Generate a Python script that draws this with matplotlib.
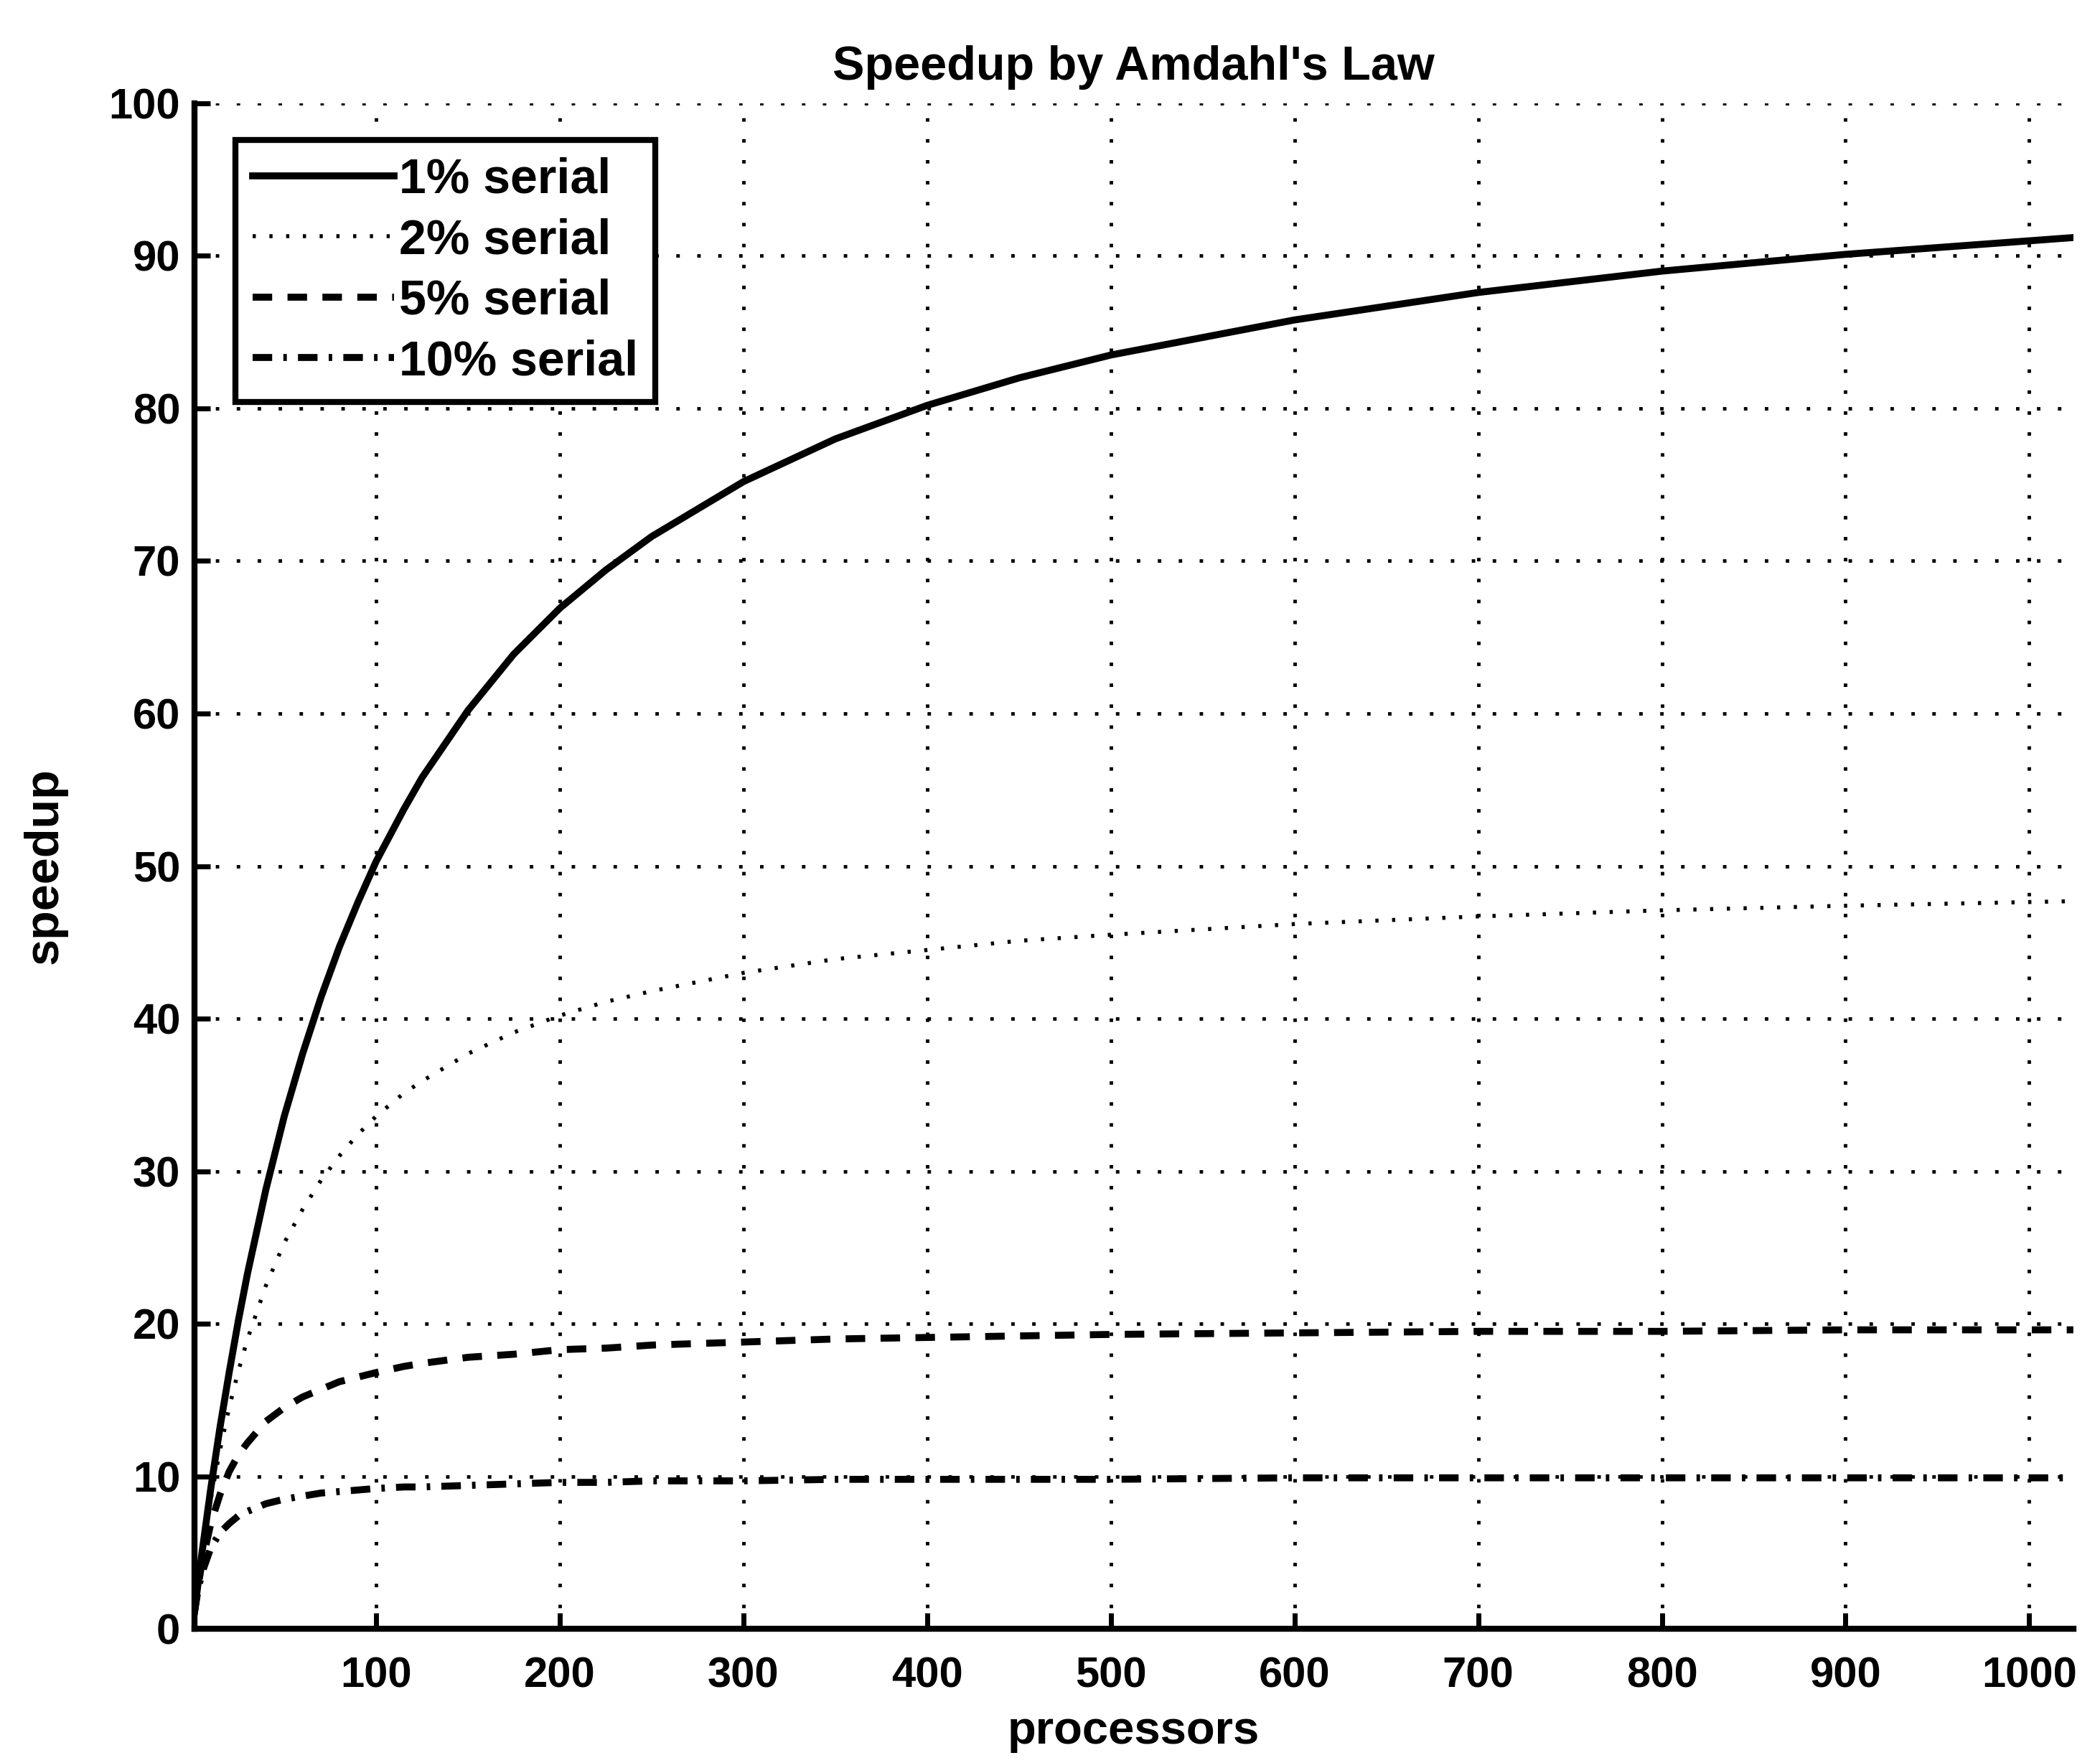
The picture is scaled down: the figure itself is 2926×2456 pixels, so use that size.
import numpy as np
import matplotlib.pyplot as plt

# processor counts and speedups
procs = [1, 3, 5, 10, 15, 20, 25, 30, 40, 50, 60, 70, 80, 90, 100, 115, 125, 150,
         175, 200, 225, 250, 300, 350, 400, 450, 500, 600, 700, 800, 900, 1024]
serial_1 = [1.0, 2.9, 4.8, 9.2, 13.2, 16.8, 20.2, 23.3, 28.8, 33.6, 37.7, 41.4,
            44.7, 47.6, 50.3, 53.7, 55.8, 60.2, 63.9, 66.9, 69.4, 71.6, 75.2, 78.0,
            80.2, 82.0, 83.5, 85.8, 87.6, 89.0, 90.1, 91.2]
serial_2 = [1.0, 2.9, 4.6, 8.5, 11.7, 14.5, 16.9, 19.0, 22.5, 25.3, 27.5, 29.4,
            31.0, 32.4, 33.6, 35.1, 35.9, 37.7, 39.1, 40.2, 41.1, 41.8, 43.0, 43.9,
            44.5, 45.1, 45.5, 46.2, 46.7, 47.1, 47.4, 47.7]
serial_5 = [1.0, 2.7, 4.2, 6.9, 8.8, 10.3, 11.4, 12.2, 13.6, 14.5, 15.2, 15.7,
            16.2, 16.5, 16.8, 17.2, 17.4, 17.8, 18.0, 18.3, 18.4, 18.6, 18.8, 19.0,
            19.1, 19.2, 19.3, 19.4, 19.5, 19.5, 19.6, 19.6]
serial_10 = [1.0, 2.5, 3.6, 5.3, 6.3, 6.9, 7.4, 7.7, 8.2, 8.5, 8.7, 8.9,
             9.0, 9.1, 9.2, 9.3, 9.3, 9.4, 9.5, 9.6, 9.6, 9.7, 9.7, 9.8,
             9.8, 9.8, 9.8, 9.9, 9.9, 9.9, 9.9, 9.9]
labels = ["1% serial", "2% serial", "5% serial", "10% serial"]

plt.rcParams['font.family'] = ['Liberation Sans', 'DejaVu Sans']
plt.rcParams['font.weight'] = 'bold'

fig = plt.figure(figsize=(29.26, 24.56), dpi=100)
ax = fig.add_axes([0.0925, 0.0761, 0.8948, 0.8653])

lw = 7
ax.plot(procs, serial_1, color='black', lw=lw, ls='-', solid_joinstyle='round',
        label=labels[0])
ax.plot(procs, serial_2, color='black', lw=4, ls=(0, (0.8, 3.4)), label=labels[1])
ax.plot(procs, serial_5, color='black', lw=lw, ls=(0, (2.8, 2.2)), label=labels[2])
ax.plot(procs, serial_10, color='black', lw=lw, ls=(0, (2.8, 1.6, 0.5, 1.6)), label=labels[3])

ax.set_xlim(1, 1024)
ax.set_ylim(0, 100)
ax.set_xticks(np.arange(100, 1001, 100))
ax.set_yticks(np.arange(0, 101, 10))
ax.grid(True, color='black', ls=(0, (1, 5)), lw=3.5)

for side in ['top', 'right']:
    ax.spines[side].set_visible(False)
for side in ['left', 'bottom']:
    ax.spines[side].set_linewidth(6)
ax.tick_params(direction='in', length=16, width=5, labelsize=43)
ax.tick_params(axis='x', pad=28)
ax.tick_params(axis='y', pad=14)

ax.set_title("Speedup by Amdahl's Law", fontsize=48, fontweight='bold', pad=24)
ax.set_xlabel("processors", fontsize=47, fontweight='bold', labelpad=14)
ax.set_ylabel("speedup", fontsize=48, fontweight='bold', labelpad=42)

leg = ax.legend(loc='upper left', bbox_to_anchor=(0.009, 0.992), fontsize=49,
                handlelength=2.9, handletextpad=0.1, labelspacing=0.3,
                borderpad=0.35, fancybox=False, framealpha=1)
leg.get_frame().set_edgecolor('black')
leg.get_frame().set_linewidth(6)

fig.savefig("out.png", dpi=100, facecolor='white')
